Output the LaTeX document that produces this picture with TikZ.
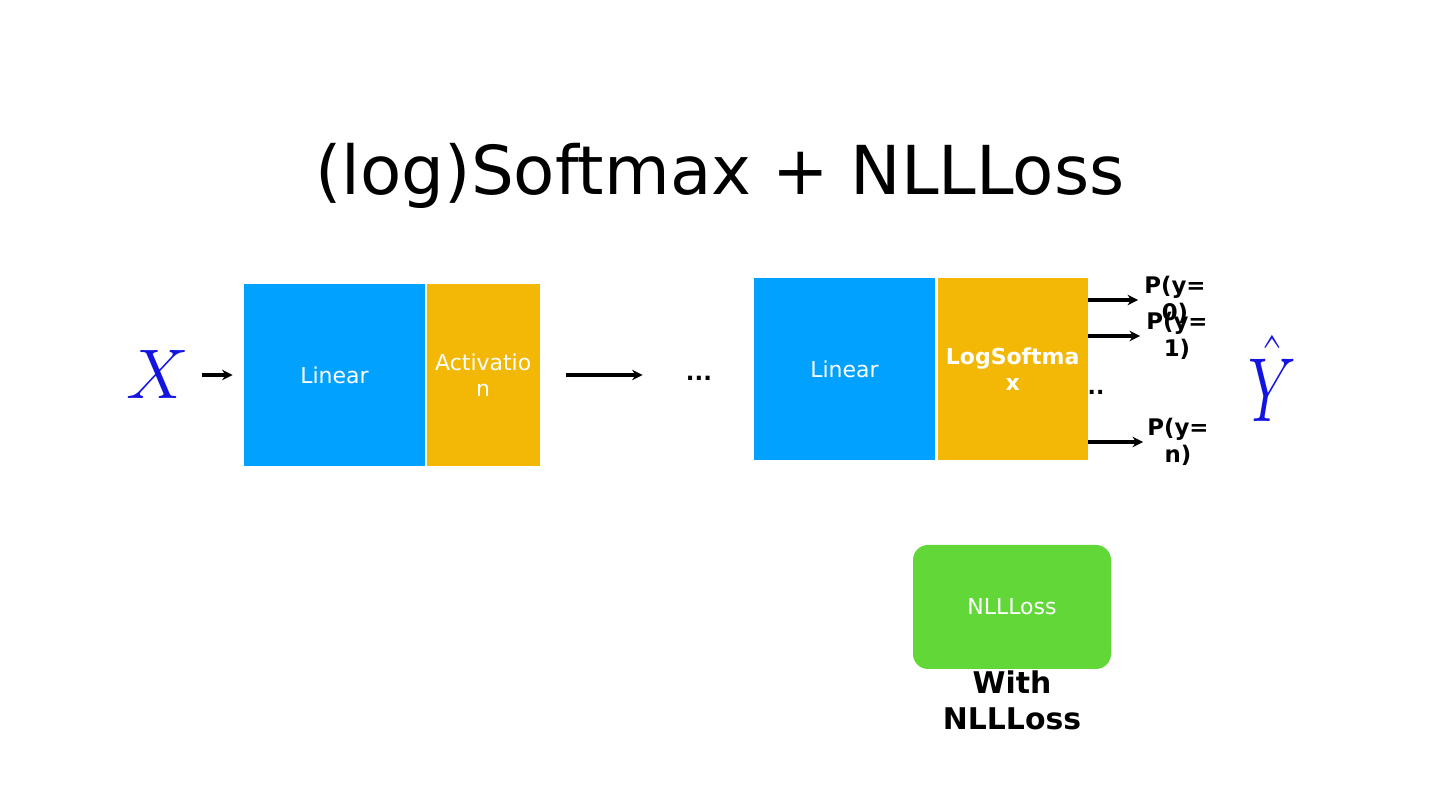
\RequirePackage{fix-cm}
\documentclass[tikz,border=0pt]{standalone}
\usepackage{fontspec}
\setmainfont{DejaVu Sans}
\usetikzlibrary{arrows.meta, positioning, calc}

\definecolor{linblue}{RGB}{0,161,255}
\definecolor{actorange}{RGB}{242,184,5}
\definecolor{lossgreen}{RGB}{98,216,56}
\definecolor{mathblue}{RGB}{20,20,225}

\begin{document}
\begin{tikzpicture}[
        layer/.style={rectangle, fill=#1, text=white, align=center, inner sep=0pt, minimum height=3.64cm, font=\fontsize{12.5}{15}\selectfont},
        loss/.style={rectangle, fill=lossgreen, rounded corners=0.3cm, text=white, minimum width=3.96cm, minimum height=2.48cm, font=\fontsize{12.5}{15}\selectfont},
        prob/.style={align=center, inner sep=0pt, font=\fontsize{13}{15}\selectfont\bfseries},
        arrow/.style={line width=2pt,-{Stealth[length=6pt,width=6pt]}}
    ]
        \useasboundingbox (0,0) rectangle (28.8,16.22);

        % Title
        \node[anchor=base, font=\fontsize{38.4}{46}\selectfont] (title) at (14.4,12.32) {(log)Softmax + NLLLoss};

        % Nodes
        \node[inner sep=0pt, text=mathblue, font=\fontsize{40}{48}\selectfont] (xin) at (3.16,8.74) {$X$};
        \node[layer=linblue, minimum width=3.62cm] (lin1) at (6.69,8.72) {Linear};
        \node[layer=actorange, minimum width=2.26cm, right=0.02cm of lin1] (act1) {Activatio\\n};
        \node[anchor=base, inner sep=0pt, font=\fontsize{13}{15}\selectfont\bfseries] (dots) at (13.98,8.6) {...};
        \node[layer=linblue, minimum width=3.62cm] (lin2) at (16.89,8.84) {Linear};
        \node[layer=actorange, minimum width=3.0cm, right=0.04cm of lin2, font=\fontsize{12.5}{15}\selectfont\bfseries] (lsm) {LogSoftma\\x};
        \node[prob] (p0) at (23.5,10.22) {P(y=\\0)};
        \node[prob] (p1) at (23.54,9.5) {P(y=\\1)};
        \node[prob] (pn) at (23.56,7.38) {P(y=\\n)};
        \node[anchor=base, inner sep=0pt, font=\fontsize{12.5}{15}\selectfont\bfseries] (pdots) at (21.92,8.32) {..};
        \node[inner sep=0pt, text=mathblue, font=\fontsize{48}{56}\selectfont] (yhat) at (25.44,8.66) {\scalebox{0.72}[1.08]{$\hat{Y}$}};
        \node[loss] (nll) at (20.24,4.08) {NLLLoss};
        \node[align=center, font=\fontsize{17}{20.5}\selectfont\bfseries] (with) at (20.24,2.22) {With\\NLLLoss};

        % Arrows
        \draw[arrow, shorten <=0.24cm, shorten >=0.22cm] (xin.east |- lin1) -- (lin1.west);
        \draw[arrow, shorten <=0.52cm, shorten >=0.86cm] (act1.east) -- (act1.east -| dots.west);
        \draw[arrow, shorten >=0.12cm] (lsm.east |- p0) -- (p0.west);
        \draw[arrow, shorten >=0.12cm] (lsm.east |- p1) -- (p1.west);
        \draw[arrow, shorten >=0.08cm] (lsm.east |- pn) -- (pn.west);
    \end{tikzpicture}
\end{document}
